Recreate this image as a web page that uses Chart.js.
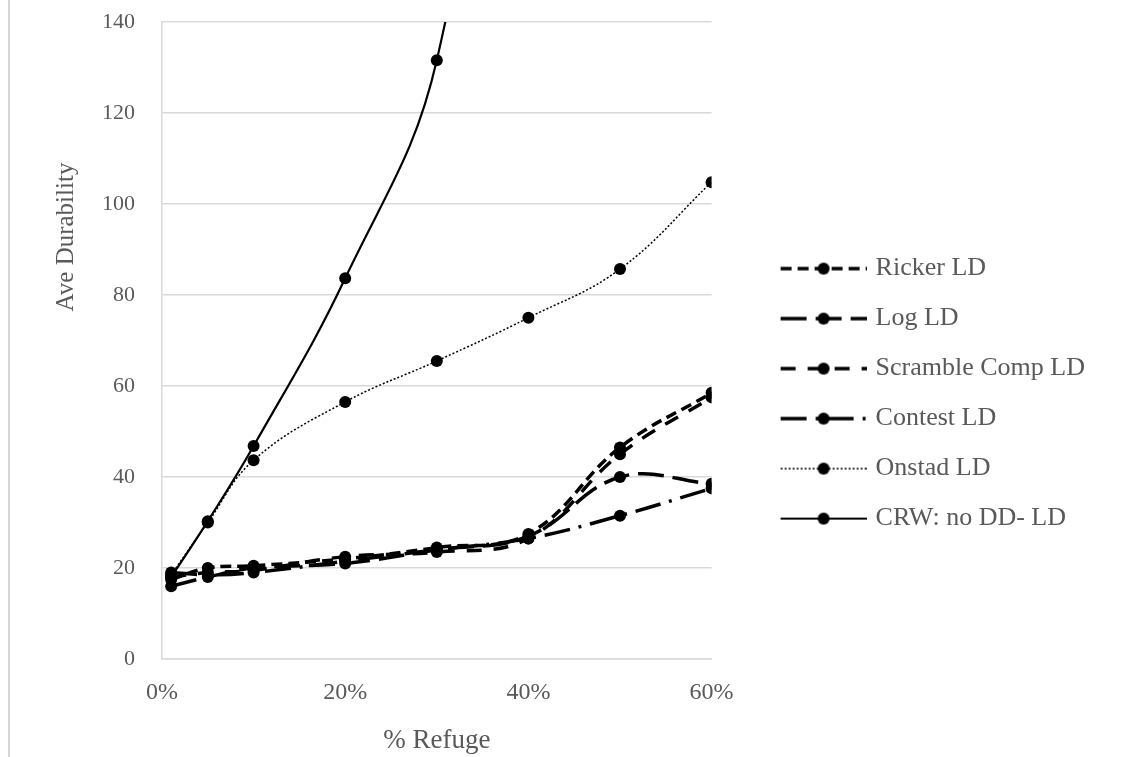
<!DOCTYPE html>
<html>
<head>
<meta charset="utf-8">
<script src="https://cdn.jsdelivr.net/npm/chart.js@4/dist/chart.umd.min.js"></script>
<style>
  html, body { margin: 0; padding: 0; background: #fff; }
  #wrap { position: relative; width: 1130px; height: 757px; }
  #edge { position: absolute; left: 8px; top: 0; width: 2px; height: 757px; background: #d6d6d6; }
</style>
</head>
<body>
<div id="wrap">
  <div id="edge"></div>
  <canvas id="grafico" width="1130" height="757"></canvas>
</div>
<script>
// % refuge (x) shared by every series
let refuge = [0.01, 0.05, 0.10, 0.20, 0.30, 0.40, 0.50, 0.60];

let ricker   = [17.5, 20, 20.5, 22, 24.5, 27.5, 46.5, 58.5];
let logLD    = [16, 18, 20, 21, 24, 27, 40, 38.5];
let scramble = [18, 19, 19.5, 22.5, 23.5, 26.5, 45, 57.5];
let contest  = [19, 18.5, 19, 21.5, 24, 26.5, 31.5, 37.5];
let onstad   = [18.5, 30, 43.7, 56.5, 65.5, 75, 85.7, 104.8];
let crw      = [18, 30.3, 46.8, 83.7, 131.6, 260, 400, 560];

let yTicks = [0, 20, 40, 60, 80, 100, 120, 140];
let xTicks = [0, 0.2, 0.4, 0.6];

const cinza = '#595959';
const serif = "'Liberation Serif', 'Times New Roman', serif";

function pontos(vals) {
  return refuge.map((x, i) => ({x: x, y: vals[i]}));
}

// legend sample: dashed line with a dot in the middle, drawn on a small canvas
function amostra(dash, width) {
  let c = document.createElement('canvas');
  c.width = 135; c.height = 20;
  let g = c.getContext('2d');
  g.strokeStyle = '#000';
  g.lineWidth = width;
  g.setLineDash(dash);
  g.beginPath();
  g.moveTo(49, 10);
  g.lineTo(135, 10);
  g.stroke();
  g.setLineDash([]);
  g.fillStyle = '#000';
  g.beginPath();
  g.arc(92, 10, 6, 0, Math.PI * 2);
  g.fill();
  return c;
}

function serie(label, vals, dash, width) {
  return {
    label: label,
    data: pontos(vals),
    borderColor: '#000',
    backgroundColor: '#000',
    borderWidth: width,
    borderDash: dash,
    pointRadius: 6,
    pointHoverRadius: 6,
    pointBackgroundColor: '#000',
    pointBorderWidth: 0,
    tension: 0.4,
    capBezierPoints: false,
    pointStyle: 'circle',
    legendIcon: amostra(dash, width)
  };
}

let datasets = [
  serie('Ricker LD', ricker, [11, 6], 3.5),
  serie('Log LD', logLD, [26, 9], 3.5),
  serie('Scramble Comp LD', scramble, [15, 12], 3.5),
  serie('Contest LD', contest, [26, 9, 3, 9], 3.5),
  serie('Onstad LD', onstad, [2, 2], 1.5),
  serie('CRW: no DD- LD', crw, [], 2.2)
];

let tituloY = {
  id: 'tituloY',
  afterDraw(chart) {
    let ctx = chart.ctx;
    ctx.save();
    ctx.translate(66, 237);
    ctx.rotate(-Math.PI / 2);
    ctx.font = '25px ' + serif;
    ctx.fillStyle = cinza;
    ctx.textAlign = 'center';
    ctx.textBaseline = 'middle';
    ctx.fillText('Ave Durability', 0, 0);
    ctx.restore();
  }
};

let config = {
  type: 'line',
  data: { datasets: datasets },
  options: {
    responsive: false,
    animation: false,
    layout: { padding: { top: 0, right: 35, left: 0, bottom: 0 } },
    scales: {
      x: {
        type: 'linear',
        min: 0, max: 0.6,
        afterBuildTicks: s => { s.ticks = xTicks.map(v => ({value: v})); },
        afterFit: s => { s.height = 98; },
        grid: { display: false, drawTicks: false },
        border: { display: true, color: '#d9d9d9', width: 1.5 },
        ticks: {
          padding: 19,
          color: cinza,
          font: { family: serif, size: 24 },
          callback: v => Math.round(v * 100) + '%'
        },
        title: {
          display: true,
          text: '% Refuge',
          color: cinza,
          font: { family: serif, size: 27 },
          padding: { top: 4, bottom: 0 }
        }
      },
      y: {
        min: 0, max: 140,
        afterBuildTicks: s => { s.ticks = yTicks.map(v => ({value: v})); },
        afterFit: s => { s.width = 162; s.paddingTop = 22; s.paddingBottom = 0; },
        grid: { color: '#d9d9d9', lineWidth: 1.5, drawTicks: false },
        border: { display: true, color: '#d9d9d9', width: 1.5 },
        ticks: {
          padding: 27,
          color: cinza,
          font: { family: serif, size: 22 }
        }
      }
    },
    plugins: {
      tooltip: { enabled: false },
      legend: {
        position: 'right',
        maxWidth: 420,
        title: { display: true, text: ' ', font: { size: 1 }, padding: { top: 0, bottom: 29 } },
        labels: {
          usePointStyle: true,
          pointStyleWidth: 127,
          padding: 24,
          color: cinza,
          font: { family: serif, size: 26 },
          generateLabels: chart => chart.data.datasets.map((d, i) => ({
            text: d.label,
            pointStyle: d.legendIcon,
            fontColor: cinza,
            lineWidth: 0,
            strokeStyle: 'transparent',
            fillStyle: 'transparent',
            datasetIndex: i,
            hidden: false
          }))
        }
      }
    }
  },
  plugins: [tituloY]
};

let chartGrafico = new Chart(document.getElementById('grafico'), config);
</script>
</body>
</html>
